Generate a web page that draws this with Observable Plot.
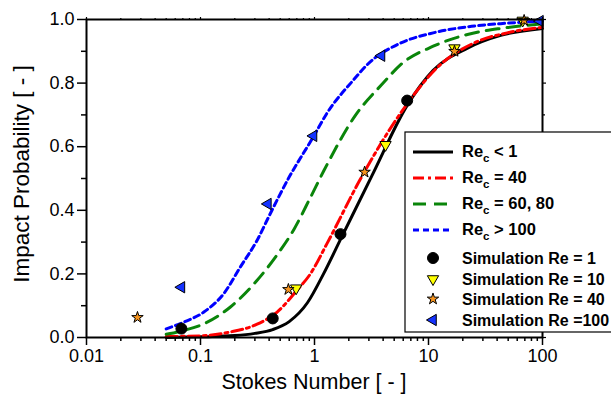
<!DOCTYPE html>
<html><head><meta charset="utf-8">
<script src="https://cdn.jsdelivr.net/npm/d3@7"></script>
<script src="https://cdn.jsdelivr.net/npm/@observablehq/plot@0.6"></script>
<style>body{margin:0;background:#fff;} svg{display:block}</style>
</head><body><div id="chart"></div>
<script>
// ---- axis ticks ----
const xMajor = [0.01, 0.1, 1, 10, 100];
const xTickLabels = ["0.01", "0.1", "1", "10", "100"];
const xMinor = [2,3,4,5,6,7,8,9].flatMap(m => [0.01, 0.1, 1, 10].map(d => +(m * d).toPrecision(2)));
const yMajor = [0, 0.2, 0.4, 0.6, 0.8, 1.0];
const yTickLabels = ["0.0", "0.2", "0.4", "0.6", "0.8", "1.0"];
const yMinor = [0.1, 0.3, 0.5, 0.7, 0.9];

// ---- model curves ----
const blackSt = [0.05, 0.1, 0.2, 0.3, 0.43, 0.6, 0.87, 1.2, 1.7, 3.2, 6.5, 11, 22, 43, 100];
const blackP  = [0.0, 0.002, 0.006, 0.013, 0.025, 0.05, 0.11, 0.2, 0.31, 0.51, 0.73, 0.84, 0.91, 0.95, 0.972];
const redSt = [0.05, 0.1, 0.18, 0.31, 0.47, 0.7, 0.92, 1.29, 2.5, 5.7, 12.7, 25, 49, 100];
const redP  = [0.003, 0.005, 0.017, 0.041, 0.08, 0.148, 0.2, 0.296, 0.495, 0.706, 0.858, 0.926, 0.958, 0.975];
const greenSt = [0.05, 0.071, 0.107, 0.183, 0.314, 0.47, 0.66, 0.92, 1.21, 2.3, 4, 5.7, 11, 22, 43, 100];
const greenP  = [0.01, 0.022, 0.043, 0.096, 0.18, 0.26, 0.34, 0.44, 0.525, 0.7, 0.8, 0.858, 0.916, 0.953, 0.972, 0.986];
const blueSt = [0.05, 0.071, 0.107, 0.16, 0.224, 0.314, 0.41, 0.58, 0.98, 1.29, 2.2, 2.9, 5.7, 11, 22, 43, 100];
const blueP  = [0.027, 0.048, 0.08, 0.138, 0.222, 0.306, 0.39, 0.495, 0.632, 0.706, 0.81, 0.858, 0.926, 0.958, 0.977, 0.987, 0.995];

// ---- simulation points ----
const simRe1St = [0.068, 0.43, 1.69, 6.5];
const simRe1P  = [0.028, 0.06, 0.325, 0.745];
const simRe10St = [0.69, 4.2, 16.9, 67];
const simRe10P  = [0.155, 0.606, 0.91, 0.997];
const simRe40St = [0.028, 0.59, 2.75, 16.9, 69];
const simRe40P  = [0.063, 0.151, 0.52, 0.9, 0.997];
const simRe100St = [0.068, 0.39, 0.98, 3.87, 95];
const simRe100P  = [0.158, 0.42, 0.634, 0.886, 0.995];

const font = "'Liberation Sans', Arial, sans-serif";
const toRows = (st, p) => st.map((s, i) => ({st: s, p: p[i]}));

const curves = [
  {label: ["Re", "c", " < 1"], rows: toRows(blackSt, blackP), stroke: "#000000", dash: null},
  {label: ["Re", "c", " = 40"], rows: toRows(redSt, redP), stroke: "#ff0000", dash: "11,4,3,4"},
  {label: ["Re", "c", " = 60, 80"], rows: toRows(greenSt, greenP), stroke: "#0a850a", dash: "13,8"},
  {label: ["Re", "c", " > 100"], rows: toRows(blueSt, blueP), stroke: "#0000ff", dash: "6,4"}
];
const sims = [
  {label: "Simulation Re = 1", rows: toRows(simRe1St, simRe1P), symbol: "circle", fill: "#000000", r: 5.5, rotate: 0},
  {label: "Simulation Re = 10", rows: toRows(simRe10St, simRe10P), symbol: "triangle", fill: "#ffff00", r: 4.2, rotate: 180},
  {label: "Simulation Re = 40", rows: toRows(simRe40St, simRe40P), symbol: "star", fill: "#f7941d", r: 3.6, rotate: 0},
  {label: "Simulation Re =100", rows: toRows(simRe100St, simRe100P), symbol: "triangle", fill: "#1432ff", r: 4.2, rotate: -90}
];

const chart = Plot.plot({
  width: 611, height: 394,
  marginLeft: 86, marginRight: 69, marginTop: 19, marginBottom: 57,
  style: {fontFamily: font, fontSize: "18px", color: "#000", background: "#fff"},
  x: {type: "log", domain: [0.01, 100]},
  y: {domain: [0, 1]},
  marks: [
    ...curves.map(c => Plot.line(c.rows, {x: "st", y: "p", stroke: c.stroke, strokeWidth: 3,
        strokeDasharray: c.dash, curve: "monotone-x"})),
    ...sims.map(s => Plot.dot(s.rows, {x: "st", y: "p", symbol: s.symbol, r: s.r, fill: s.fill,
        stroke: "#000", strokeWidth: 1, rotate: s.rotate})),
    Plot.frame({strokeWidth: 2}),
    Plot.axisY({ticks: yMajor, tickSize: 9, tickPadding: 3, strokeWidth: 1.5,
        tickFormat: d => yTickLabels[yMajor.indexOf(d)], label: null}),
    Plot.axisY({ticks: yMinor, tickSize: 5, fill: "none", strokeWidth: 1.5, label: null}),
    Plot.axisY({ticks: yMajor, anchor: "right", tickSize: 3, fill: "none", strokeWidth: 1.2, label: null}),
    Plot.axisY({ticks: yMinor, anchor: "right", tickSize: 2, fill: "none", strokeWidth: 1.2, label: null}),
    Plot.axisX({ticks: xMajor, tickSize: 8, tickPadding: 4, strokeWidth: 1.5,
        tickFormat: d => xTickLabels[xMajor.indexOf(d)], label: null}),
    Plot.axisX({ticks: xMinor, tickSize: 4, fill: "none", strokeWidth: 1.5, label: null}),
    Plot.axisX({ticks: xMajor, anchor: "top", tickSize: 3, fill: "none", strokeWidth: 1.2, label: null}),
    Plot.axisX({ticks: xMinor, anchor: "top", tickSize: 2, fill: "none", strokeWidth: 1.2, label: null})
  ]
});
document.getElementById("chart").appendChild(chart);

// ---- axis titles and legend ----
const svg = d3.select(chart);
svg.append("text")
  .attr("x", 314).attr("y", 389).attr("text-anchor", "middle")
  .attr("font-family", font).attr("font-size", 21.5).attr("fill", "#000")
  .text("Stokes Number [ - ]");
svg.append("text")
  .attr("transform", "translate(29,174) rotate(-90)").attr("text-anchor", "middle")
  .attr("font-family", font).attr("font-size", 22.5).attr("fill", "#000")
  .text("Impact Probability [ - ]");

const lg = svg.append("g").attr("text-anchor", "start");
lg.append("rect").attr("x", 405).attr("y", 132).attr("width", 240).attr("height", 200)
  .attr("fill", "#fff").attr("stroke", "#000").attr("stroke-width", 1.2);
const lineRowsY = [152, 178, 204, 230];
curves.forEach((c, i) => {
  const y = lineRowsY[i];
  lg.append("line").attr("x1", 413).attr("x2", 453).attr("y1", y).attr("y2", y)
    .attr("stroke", c.stroke).attr("stroke-width", 3).attr("stroke-dasharray", c.dash);
  const t = lg.append("text").attr("x", 462).attr("y", y + 5).attr("text-anchor", "start")
    .attr("font-family", font).attr("font-size", 16.5).attr("font-weight", "bold").attr("fill", "#000");
  t.append("tspan").text(c.label[0]);
  t.append("tspan").attr("dy", 5).attr("font-size", 11.5).text(c.label[1]);
  t.append("tspan").attr("dy", -5).text(c.label[2]);
});
const simRowsY = [258, 279, 299, 320];
const symMap = {circle: d3.symbolCircle, triangle: d3.symbolTriangle, star: d3.symbolStar};
sims.forEach((s, i) => {
  const y = simRowsY[i];
  lg.append("path").attr("d", d3.symbol(symMap[s.symbol], Math.PI * s.r * s.r)())
    .attr("transform", `translate(433,${y}) rotate(${s.rotate})`)
    .attr("fill", s.fill).attr("stroke", "#000").attr("stroke-width", 1);
  lg.append("text").attr("x", 462).attr("y", y + 6).attr("text-anchor", "start")
    .attr("font-family", font).attr("font-size", 16).attr("font-weight", "bold").attr("fill", "#000")
    .text(s.label);
});
</script>
</body></html>
